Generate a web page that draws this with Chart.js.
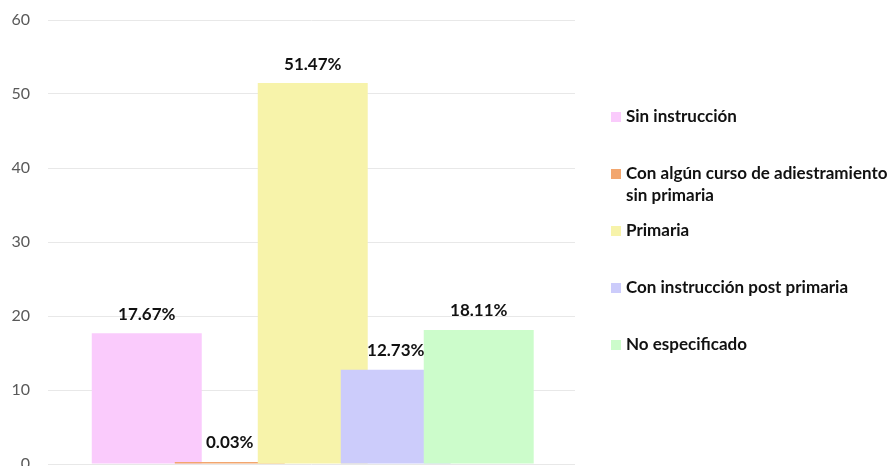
<!DOCTYPE html>
<html>
<head>
<meta charset="utf-8">
<script src="https://cdn.jsdelivr.net/npm/chart.js@4/dist/chart.umd.min.js"></script>
<style>
  html, body { margin: 0; padding: 0; background: #fff; }
  #wrap { width: 895px; height: 466px; position: relative; }
</style>
</head>
<body>
<div id="wrap"><canvas id="chart"></canvas></div>
<script>
// ---- data ----
const seriesNames = [
  "Sin instrucción",
  "Con algún curso de adiestramiento sin primaria",
  "Primaria",
  "Con instrucción post primaria",
  "No especificado",
];
const seriesValues = [17.67, 0.03, 51.47, 12.73, 18.11];
const seriesColors = ["#facbfc", "#f2a66e", "#f7f3aa", "#ccccfb", "#ccfccb"];
const yTicks = [0, 10, 20, 30, 40, 50, 60];

// one dataset per series, each sitting at its own x slot
const datasets = seriesNames.map((name, i) => ({
  label: name,
  data: [{ x: i + 1, y: seriesValues[i] }],
  backgroundColor: seriesColors[i],
  order: seriesNames.length - i, // later series drawn on top
}));

// value labels above bars
const valueLabels = {
  id: "valueLabels",
  afterDatasetsDraw(chart) {
    const ctx = chart.ctx;
    ctx.save();
    ctx.font = "bold 17px Lato";
    ctx.fillStyle = "#111";
    ctx.textAlign = "center";
    ctx.textBaseline = "middle";
    chart.data.datasets.forEach((ds, i) => {
      const bar = chart.getDatasetMeta(i).data[0];
      ctx.fillText(ds.data[0].y.toFixed(2) + "%", bar.x, bar.y - 19);
    });
    ctx.restore();
  },
};

// legend on the right, with wrapping
const sideLegend = {
  id: "sideLegend",
  afterDraw(chart) {
    const ctx = chart.ctx;
    const left = 611, textX = 626, maxW = 275;
    let y = 117;
    ctx.save();
    ctx.font = "bold 17px Lato";
    ctx.textBaseline = "middle";
    chart.data.datasets.forEach((ds) => {
      ctx.fillStyle = ds.backgroundColor;
      ctx.fillRect(left, y - 5, 10, 10);
      ctx.fillStyle = "#111";
      // simple word wrap
      const words = ds.label.split(" ");
      let line = "", ly = y;
      words.forEach((w) => {
        const test = line ? line + " " + w : w;
        if (ctx.measureText(test).width > maxW && line) {
          ctx.fillText(line, textX, ly);
          line = w;
          ly += 22;
        } else {
          line = test;
        }
      });
      ctx.fillText(line, textX, ly);
      y += 57;
    });
    ctx.restore();
  },
};

new Chart(document.getElementById("chart"), {
  type: "bar",
  data: { datasets },
  options: {
    responsive: true,
    maintainAspectRatio: false,
    animation: false,
    layout: { padding: { top: 20, right: 320, bottom: 2, left: 0 } },
    datasets: {
      bar: { grouped: false, barPercentage: 1.325, categoryPercentage: 1, minBarLength: 2 },
    },
    plugins: {
      legend: { display: false },
      tooltip: { enabled: false },
    },
    scales: {
      x: {
        type: "linear",
        min: -0.19,
        max: 6.16,
        offset: false,
        display: false,
      },
      y: {
        min: 0,
        max: 60,
        afterBuildTicks: (scale) => { scale.ticks = yTicks.map(v => ({ value: v })); },
        afterFit: (scale) => {
          scale.width = 48;
          scale.paddingTop = 0;
          scale.paddingBottom = 0;
        },
        border: { display: false },
        grid: { color: "#e8e8e8", drawTicks: false },
        ticks: {
          color: "#595959",
          font: { family: "Lato", size: 16 },
          padding: 18,
        },
      },
    },
  },
  plugins: [valueLabels, sideLegend],
});
</script>
</body>
</html>
